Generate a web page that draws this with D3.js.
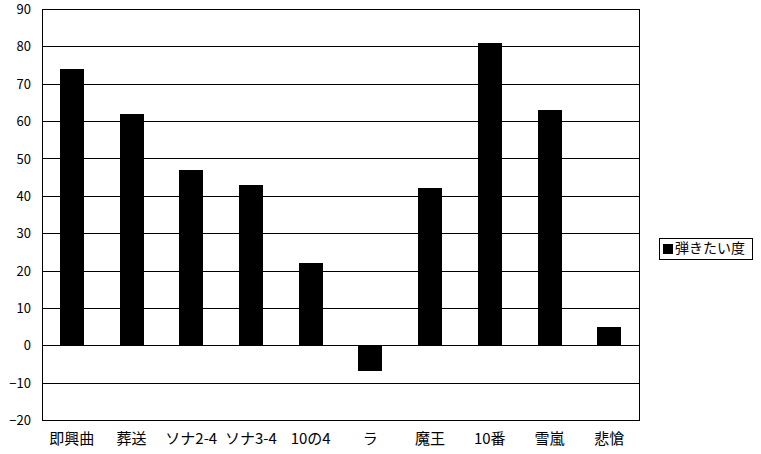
<!DOCTYPE html>
<html>
<head>
<meta charset="utf-8">
<script src="https://cdn.jsdelivr.net/npm/d3@7"></script>
<style>
  body { margin: 0; background: #fff; }
  svg text { font-family: "Noto Sans CJK JP", "DejaVu Sans Mono", sans-serif; font-size: 14px; fill: #000; }
</style>
</head>
<body>
<div id="chart"></div>
<script>
const categories = ['即興曲', '葬送', 'ソナ2-4', 'ソナ3-4', '10の4', 'ラ', '魔王', '10番', '雪嵐', '悲愴'];
const values = [74, 62, 47, 43, 22, -7, 42, 81, 63, 5];
const yTicks = [-20, -10, 0, 10, 20, 30, 40, 50, 60, 70, 80, 90];
const seriesName = '弾きたい度';

const width = 761;
const height = 454;
const margin = {top: 9, left: 42, right: 122, bottom: 34};

const svg = d3.select('#chart')
  .append('svg')
  .attr('width', width)
  .attr('height', height);

const xScale = d3.scaleBand()
  .domain(categories)
  .range([margin.left, width - margin.right])
  .paddingInner(0.6)
  .paddingOuter(0.3);

const yScale = d3.scaleLinear()
  .domain([-20, 90])
  .range([height - margin.bottom, margin.top]);

// gridlines
svg.append('g')
  .selectAll('line')
  .data(yTicks)
  .enter()
  .append('line')
  .attr('x1', margin.left)
  .attr('x2', width - margin.right)
  .attr('y1', d => Math.round(yScale(d)) + 0.5)
  .attr('y2', d => Math.round(yScale(d)) + 0.5)
  .attr('stroke', '#000')
  .attr('stroke-width', 1);

// plot border
svg.append('rect')
  .attr('x', margin.left + 0.5)
  .attr('y', margin.top + 0.5)
  .attr('width', width - margin.left - margin.right)
  .attr('height', height - margin.top - margin.bottom)
  .attr('fill', 'none')
  .attr('stroke', '#000');

// bars
svg.append('g')
  .selectAll('rect')
  .data(values)
  .enter()
  .append('rect')
  .attr('x', (d, i) => Math.round(xScale(categories[i])))
  .attr('width', Math.round(xScale.bandwidth()))
  .attr('y', d => Math.round(yScale(Math.max(d, 0))))
  .attr('height', d => Math.round(Math.abs(yScale(d) - yScale(0))))
  .attr('fill', '#000');

// y-axis
const yAxis = svg.append('g')
  .attr('transform', `translate(${margin.left}, 0)`)
  .call(d3.axisLeft(yScale).tickValues(yTicks).tickSize(0).tickPadding(11));
yAxis.select('.domain').remove();
yAxis.selectAll('text')
  .style('font-size', '13px')
  .style('font-family', null)
  .attr('dy', '0.35em');

// x-axis labels
svg.append('g')
  .selectAll('text')
  .data(categories)
  .enter()
  .append('text')
  .attr('x', d => xScale(d) + xScale.bandwidth() / 2)
  .attr('y', height - margin.bottom + 20)
  .attr('dominant-baseline', 'middle')
  .attr('text-anchor', 'middle')
  .style('font-size', '15px')
  .text(d => d);

// legend
const legend = svg.append('g').attr('transform', 'translate(659, 238)');
legend.append('rect')
  .attr('x', 0.5)
  .attr('y', 0.5)
  .attr('width', 93)
  .attr('height', 21)
  .attr('fill', '#fff')
  .attr('stroke', '#000');
legend.append('rect')
  .attr('x', 4)
  .attr('y', 6)
  .attr('width', 10)
  .attr('height', 10)
  .attr('fill', '#000');
legend.append('text')
  .attr('x', 16)
  .attr('y', 11.5)
  .attr('dominant-baseline', 'middle')
  .text(seriesName);
</script>
</body>
</html>
